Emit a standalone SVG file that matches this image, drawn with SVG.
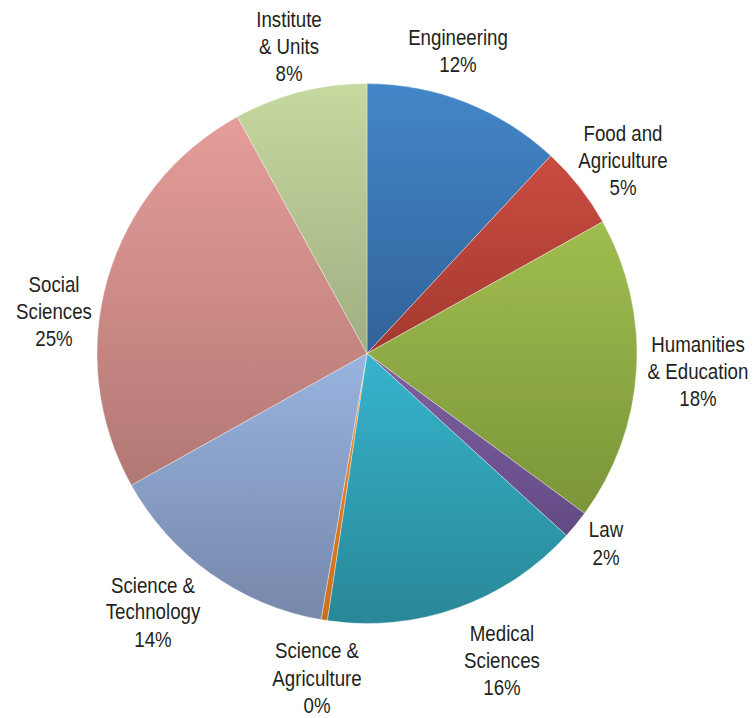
<svg xmlns="http://www.w3.org/2000/svg" width="753" height="718" viewBox="0 0 753 718">
<style>
.lbl{font-family:"Liberation Sans",Arial,sans-serif;font-size:22px;fill:#231f20;text-anchor:middle}
.sl{stroke:#ffffff;stroke-opacity:0.6;stroke-width:0.6;stroke-linejoin:round}
</style>
<defs>
<linearGradient id="gEng" x1="0" y1="0" x2="0" y2="1"><stop offset="0" stop-color="#4387c8"/><stop offset="1" stop-color="#31629a"/></linearGradient>
<linearGradient id="gFood" x1="0" y1="0" x2="0" y2="1"><stop offset="0" stop-color="#ca4c41"/><stop offset="1" stop-color="#a4392f"/></linearGradient>
<linearGradient id="gHum" x1="0" y1="0" x2="0" y2="1"><stop offset="0" stop-color="#a0bd4f"/><stop offset="1" stop-color="#7b9539"/></linearGradient>
<linearGradient id="gLaw" x1="0" y1="0" x2="0" y2="1"><stop offset="0" stop-color="#7e61a2"/><stop offset="1" stop-color="#634a84"/></linearGradient>
<linearGradient id="gMed" x1="0" y1="0" x2="0" y2="1"><stop offset="0" stop-color="#36b4cd"/><stop offset="1" stop-color="#298797"/></linearGradient>
<linearGradient id="gSA" x1="0" y1="0" x2="0" y2="1"><stop offset="0" stop-color="#f28b2a"/><stop offset="1" stop-color="#c8701f"/></linearGradient>
<linearGradient id="gST" x1="0" y1="0" x2="0" y2="1"><stop offset="0" stop-color="#98b4e0"/><stop offset="1" stop-color="#7687aa"/></linearGradient>
<linearGradient id="gSoc" x1="0" y1="0" x2="0" y2="1"><stop offset="0" stop-color="#e59d99"/><stop offset="1" stop-color="#b27874"/></linearGradient>
<linearGradient id="gInst" x1="0" y1="0" x2="0" y2="1"><stop offset="0" stop-color="#c6d99f"/><stop offset="1" stop-color="#a0ae82"/></linearGradient>
</defs>
<g id="slices">
<g id="engineering"><path class="sl" fill="url(#gEng)" d="M367,353.5 L367,83.5 A270,270 0 0 1 550.8,155.7 Z"/></g>
<g id="food-agriculture"><path class="sl" fill="url(#gFood)" d="M367,353.5 L550.8,155.7 A270,270 0 0 1 602.7,221.8 Z"/></g>
<g id="humanities"><path class="sl" fill="url(#gHum)" d="M367,353.5 L602.7,221.8 A270,270 0 0 1 584.6,513.3 Z"/></g>
<g id="law"><path class="sl" fill="url(#gLaw)" d="M367,353.5 L584.6,513.3 A270,270 0 0 1 566.4,535.5 Z"/></g>
<g id="medical"><path class="sl" fill="url(#gMed)" d="M367,353.5 L566.4,535.5 A270,270 0 0 1 327.3,620.6 Z"/></g>
<g id="science-agriculture"><path class="sl" fill="url(#gSA)" d="M367,353.5 L327.3,620.6 A270,270 0 0 1 321.0,619.6 Z"/></g>
<g id="science-technology"><path class="sl" fill="url(#gST)" d="M367,353.5 L321.0,619.6 A270,270 0 0 1 131.3,485.2 Z"/></g>
<g id="social"><path class="sl" fill="url(#gSoc)" d="M367,353.5 L131.3,485.2 A270,270 0 0 1 237.3,116.7 Z"/></g>
<g id="institute"><path class="sl" fill="url(#gInst)" d="M367,353.5 L237.3,116.7 A270,270 0 0 1 367,83.5 Z"/></g>
</g>
<g id="labels">
<g id="lbl-institute" transform="translate(289,0) scale(0.85,1)"><text class="lbl" x="0" y="27">Institute</text><text class="lbl" x="0" y="54">&amp; Units</text><text class="lbl" x="0" y="81">8%</text></g>
<g id="lbl-engineering" transform="translate(458,0) scale(0.85,1)"><text class="lbl" x="0" y="45">Engineering</text><text class="lbl" x="0" y="72">12%</text></g>
<g id="lbl-food" transform="translate(623,0) scale(0.85,1)"><text class="lbl" x="0" y="141">Food and</text><text class="lbl" x="0" y="168">Agriculture</text><text class="lbl" x="0" y="195">5%</text></g>
<g id="lbl-humanities" transform="translate(698,0) scale(0.85,1)"><text class="lbl" x="0" y="352">Humanities</text><text class="lbl" x="0" y="379">&amp; Education</text><text class="lbl" x="0" y="406">18%</text></g>
<g id="lbl-law" transform="translate(606,0) scale(0.85,1)"><text class="lbl" x="0" y="537">Law</text><text class="lbl" x="0" y="565">2%</text></g>
<g id="lbl-medical" transform="translate(502,0) scale(0.85,1)"><text class="lbl" x="0" y="641">Medical</text><text class="lbl" x="0" y="668">Sciences</text><text class="lbl" x="0" y="695">16%</text></g>
<g id="lbl-sciagri" transform="translate(317,0) scale(0.85,1)"><text class="lbl" x="0" y="658">Science &amp;</text><text class="lbl" x="0" y="686">Agriculture</text><text class="lbl" x="0" y="713">0%</text></g>
<g id="lbl-scitech" transform="translate(153,0) scale(0.85,1)"><text class="lbl" x="0" y="593">Science &amp;</text><text class="lbl" x="0" y="619">Technology</text><text class="lbl" x="0" y="647">14%</text></g>
<g id="lbl-social" transform="translate(54,0) scale(0.85,1)"><text class="lbl" x="0" y="292">Social</text><text class="lbl" x="0" y="319">Sciences</text><text class="lbl" x="0" y="346">25%</text></g>
</g>
</svg>
